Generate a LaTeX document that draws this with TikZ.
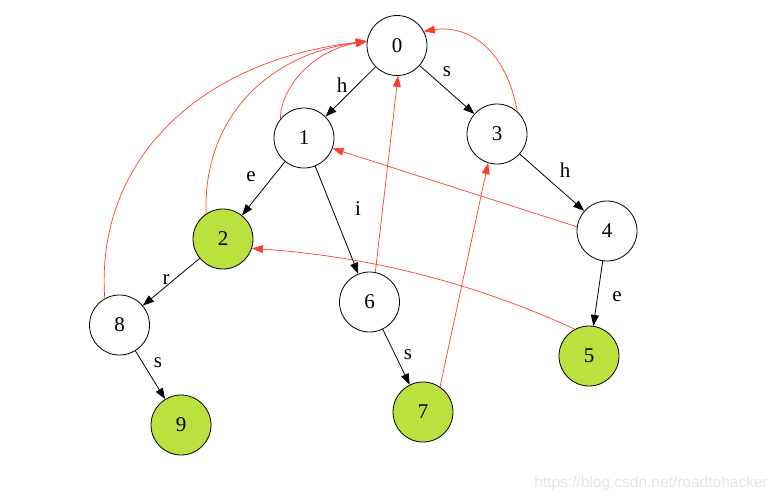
\documentclass[tikz,border=0pt]{standalone}
\usepackage{fontspec}
\setmainfont{Liberation Serif}
\newfontfamily\wmfont{Liberation Sans}
\usetikzlibrary{arrows.meta}
\definecolor{leaf}{RGB}{187,225,62}
\definecolor{fail}{RGB}{255,60,50}
\begin{document}
\begin{tikzpicture}[x=1pt,y=-1pt,
  st/.style={circle,draw,line width=0.8pt,minimum size=60pt,inner sep=0pt,font=\fontsize{21}{25}\selectfont},
  acc/.style={st,fill=leaf},
  tr/.style={draw,line width=0.8pt,-{Triangle[length=11pt,width=8pt]}},
  fl/.style={draw=fail,line width=0.7pt,-{Triangle[length=11pt,width=8pt]}},
  lab/.style={font=\fontsize{21}{25}\selectfont,inner sep=0pt}]
\useasboundingbox (0,0) rectangle (779,501);
\node[st]  (n0) at (397,45.5) {0};
\node[st]  (n1) at (304,138) {1};
\node[st]  (n3) at (497,134) {3};
\node[acc] (n2) at (223,239) {2};
\node[st]  (n4) at (607,231) {4};
\node[st]  (n6) at (369.5,302) {6};
\node[st]  (n8) at (119.5,325) {8};
\node[acc] (n5) at (589,356) {5};
\node[acc] (n7) at (423,412) {7};
\node[acc] (n9) at (181,425) {9};
% trie edges
\draw[tr] (n0) -- (n1);
\draw[tr] (n0) -- (n3);
\draw[tr] (n1) -- (n2);
\draw[tr] (n1) -- (n6);
\draw[tr] (n3) -- (n4);
\draw[tr] (n4) -- (n5);
\draw[tr] (n2) -- (n8);
\draw[tr] (n8) -- (n9);
\draw[tr] (n6) -- (n7);
% labels
\node[lab] (lh1) at (342,85) {h};
\node[lab] (ls1) at (447,72) {s};
\node[lab] (le1) at (251,177) {e};
\node[lab] (li)  at (358,209) {i};
\node[lab] (lh2) at (565,170) {h};
\node[lab] (le2) at (617,297) {e};
\node[lab] (lr)  at (166,280) {r};
\node[lab] (ls2) at (158,363) {s};
\node[lab] (ls3) at (408,355) {s};
% failure links
\draw[fl] (n1.141) .. controls (281,85) and (315,50) .. (n0.172);
\draw[fl] (n2.124) .. controls (203,120) and (265,55) .. (n0.172);
\draw[fl] (n8.119) .. controls (95,160) and (200,60) .. (n0.172);
\draw[fl] (n3.48) .. controls (505,45) and (465,25) .. (n0.28);
\draw[fl] (n6.79) -- (n0.-88);
\draw[fl] (n4.172) -- (n1.-20);
\draw[fl] (n5.118) .. controls (470,281) and (364,256) .. (n2.-18);
\draw[fl] (n7.56) -- (n3.-107);
% watermark
\node[font=\wmfont\fontsize{15.5}{18}\selectfont,text=black!10,anchor=east,inner sep=0pt] (wm) at (768,483) {https://blog.csdn.net/roadtohacker};
\end{tikzpicture}
\end{document}
